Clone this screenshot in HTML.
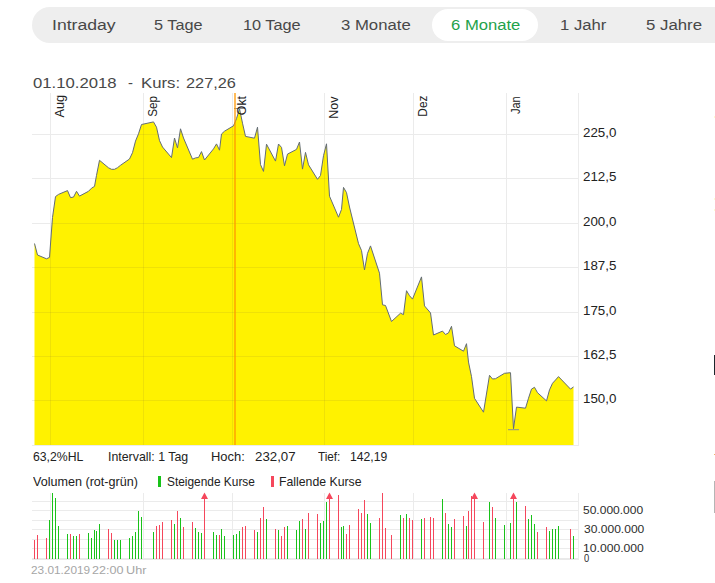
<!DOCTYPE html>
<html><head><meta charset="utf-8"><title>Chart</title>
<style>
html,body{margin:0;padding:0;background:#fff;}
body{width:715px;height:583px;overflow:hidden;position:relative;font-family:"Liberation Sans",sans-serif;}
.t{position:absolute;white-space:pre;line-height:1;font-family:"Liberation Sans",sans-serif;}
.bar{position:absolute;left:32px;top:7px;width:700px;height:36px;border-radius:18px;background:#eeeeee;}
.pill{position:absolute;left:432px;top:9px;width:106px;height:32px;border-radius:16px;background:#fff;}
.m{position:absolute;white-space:pre;line-height:1;font-size:13px;color:#222;transform-origin:0 0;transform:rotate(-90deg);text-align:right;width:40px;}
</style></head><body>
<div class="bar"></div><div class="pill"></div>

<svg width="715" height="583" viewBox="0 0 715 583" style="position:absolute;left:0;top:0">
<rect x="32" y="134" width="547" height="1" fill="#ebebeb"/>
<rect x="32" y="178" width="547" height="1" fill="#ebebeb"/>
<rect x="32" y="223" width="547" height="1" fill="#ebebeb"/>
<rect x="32" y="267" width="547" height="1" fill="#ebebeb"/>
<rect x="32" y="312" width="547" height="1" fill="#ebebeb"/>
<rect x="32" y="356" width="547" height="1" fill="#ebebeb"/>
<rect x="32" y="400" width="547" height="1" fill="#ebebeb"/>
<rect x="50" y="93" width="1" height="353" fill="#ebebeb"/>
<rect x="143" y="93" width="1" height="353" fill="#ebebeb"/>
<rect x="232" y="93" width="1" height="353" fill="#ebebeb"/>
<rect x="324" y="93" width="1" height="353" fill="#ebebeb"/>
<rect x="413" y="93" width="1" height="353" fill="#ebebeb"/>
<rect x="506" y="93" width="1" height="353" fill="#ebebeb"/>
<rect x="578" y="93" width="1" height="353" fill="#ececec"/>
<rect x="32" y="445" width="547" height="1" fill="#ececec"/>
<clipPath id="cf"><path d="M34.5 445 L34.5 243.5 L37.5 255.0 L46.5 258.8 L49.5 257.4 L52.5 217.5 L55.5 196.6 L58.5 194.4 L67.5 190.6 L70.5 197.6 L73.5 197.1 L76.5 191.3 L79.5 196.1 L88.5 191.3 L91.5 188.2 L94.5 186.4 L96.5 175.4 L99.5 160.3 L108.5 167.8 L111.5 169.3 L114.5 169.3 L117.5 167.7 L120.5 165.3 L129.5 159.0 L132.5 152.7 L135.5 141.1 L138.5 133.8 L141.5 124.5 L153.5 121.9 L156.5 127.2 L159.5 140.6 L162.5 147.0 L171.5 157.6 L174.5 138.0 L177.5 147.9 L180.5 128.8 L183.5 138.0 L192.5 159.2 L195.5 157.9 L198.5 157.5 L201.5 151.6 L204.5 160.0 L213.5 148.9 L216.5 143.9 L219.5 150.2 L221.5 134.0 L224.5 131.2 L233.5 125.8 L236.5 118.6 L239.5 108.7 L242.5 123.2 L245.5 136.4 L254.5 138.2 L257.5 127.2 L260.5 164.6 L263.5 171.4 L266.5 144.2 L275.5 161.1 L278.5 144.0 L281.5 147.4 L284.5 165.8 L287.5 154.1 L296.5 149.4 L299.5 142.0 L302.5 169.1 L305.5 152.4 L308.5 164.8 L317.5 179.3 L320.5 175.5 L323.5 155.7 L326.5 143.8 L329.5 196.2 L338.5 217.2 L341.5 209.4 L343.5 187.4 L346.5 192.6 L349.5 207.0 L358.5 243.6 L361.5 250.5 L364.5 269.9 L367.5 253.4 L370.5 245.9 L379.5 273.2 L382.5 304.8 L385.5 305.5 L391.5 321.5 L400.5 313.2 L403.5 314.6 L406.5 290.7 L409.5 295.7 L412.5 299.1 L421.5 276.9 L424.5 305.9 L430.5 312.9 L433.5 335.0 L442.5 331.1 L445.5 334.5 L448.5 332.9 L451.5 326.3 L454.5 345.8 L463.5 351.2 L466.5 343.7 L468.5 362.1 L471.5 376.6 L474.5 398.3 L483.5 412.2 L489.5 375.3 L492.5 379.0 L495.5 378.7 L504.5 373.3 L510.5 372.7 L513.5 428.7 L516.5 407.1 L525.5 408.2 L528.5 398.2 L531.5 389.1 L534.5 387.3 L537.5 392.7 L546.5 400.9 L549.5 389.9 L552.5 383.3 L555.5 380.0 L558.5 376.6 L570.5 389.1 L573.5 386.9 L573.5 445 Z"/></clipPath>
<path d="M34.5 445 L34.5 243.5 L37.5 255.0 L46.5 258.8 L49.5 257.4 L52.5 217.5 L55.5 196.6 L58.5 194.4 L67.5 190.6 L70.5 197.6 L73.5 197.1 L76.5 191.3 L79.5 196.1 L88.5 191.3 L91.5 188.2 L94.5 186.4 L96.5 175.4 L99.5 160.3 L108.5 167.8 L111.5 169.3 L114.5 169.3 L117.5 167.7 L120.5 165.3 L129.5 159.0 L132.5 152.7 L135.5 141.1 L138.5 133.8 L141.5 124.5 L153.5 121.9 L156.5 127.2 L159.5 140.6 L162.5 147.0 L171.5 157.6 L174.5 138.0 L177.5 147.9 L180.5 128.8 L183.5 138.0 L192.5 159.2 L195.5 157.9 L198.5 157.5 L201.5 151.6 L204.5 160.0 L213.5 148.9 L216.5 143.9 L219.5 150.2 L221.5 134.0 L224.5 131.2 L233.5 125.8 L236.5 118.6 L239.5 108.7 L242.5 123.2 L245.5 136.4 L254.5 138.2 L257.5 127.2 L260.5 164.6 L263.5 171.4 L266.5 144.2 L275.5 161.1 L278.5 144.0 L281.5 147.4 L284.5 165.8 L287.5 154.1 L296.5 149.4 L299.5 142.0 L302.5 169.1 L305.5 152.4 L308.5 164.8 L317.5 179.3 L320.5 175.5 L323.5 155.7 L326.5 143.8 L329.5 196.2 L338.5 217.2 L341.5 209.4 L343.5 187.4 L346.5 192.6 L349.5 207.0 L358.5 243.6 L361.5 250.5 L364.5 269.9 L367.5 253.4 L370.5 245.9 L379.5 273.2 L382.5 304.8 L385.5 305.5 L391.5 321.5 L400.5 313.2 L403.5 314.6 L406.5 290.7 L409.5 295.7 L412.5 299.1 L421.5 276.9 L424.5 305.9 L430.5 312.9 L433.5 335.0 L442.5 331.1 L445.5 334.5 L448.5 332.9 L451.5 326.3 L454.5 345.8 L463.5 351.2 L466.5 343.7 L468.5 362.1 L471.5 376.6 L474.5 398.3 L483.5 412.2 L489.5 375.3 L492.5 379.0 L495.5 378.7 L504.5 373.3 L510.5 372.7 L513.5 428.7 L516.5 407.1 L525.5 408.2 L528.5 398.2 L531.5 389.1 L534.5 387.3 L537.5 392.7 L546.5 400.9 L549.5 389.9 L552.5 383.3 L555.5 380.0 L558.5 376.6 L570.5 389.1 L573.5 386.9 L573.5 445 Z" fill="#fff200"/>
<g clip-path="url(#cf)">
<rect x="34" y="134" width="540" height="1" fill="rgba(120,110,60,0.12)"/>
<rect x="34" y="178" width="540" height="1" fill="rgba(120,110,60,0.12)"/>
<rect x="34" y="223" width="540" height="1" fill="rgba(120,110,60,0.12)"/>
<rect x="34" y="267" width="540" height="1" fill="rgba(120,110,60,0.12)"/>
<rect x="34" y="312" width="540" height="1" fill="rgba(120,110,60,0.12)"/>
<rect x="34" y="356" width="540" height="1" fill="rgba(120,110,60,0.12)"/>
<rect x="34" y="400" width="540" height="1" fill="rgba(120,110,60,0.12)"/>
<rect x="50" y="93" width="1" height="352" fill="rgba(120,110,60,0.12)"/>
<rect x="143" y="93" width="1" height="352" fill="rgba(120,110,60,0.12)"/>
<rect x="232" y="93" width="1" height="352" fill="rgba(120,110,60,0.12)"/>
<rect x="324" y="93" width="1" height="352" fill="rgba(120,110,60,0.12)"/>
<rect x="413" y="93" width="1" height="352" fill="rgba(120,110,60,0.12)"/>
<rect x="506" y="93" width="1" height="352" fill="rgba(120,110,60,0.12)"/>
</g>
<path d="M34.5 243.5 L37.5 255.0 L46.5 258.8 L49.5 257.4 L52.5 217.5 L55.5 196.6 L58.5 194.4 L67.5 190.6 L70.5 197.6 L73.5 197.1 L76.5 191.3 L79.5 196.1 L88.5 191.3 L91.5 188.2 L94.5 186.4 L96.5 175.4 L99.5 160.3 L108.5 167.8 L111.5 169.3 L114.5 169.3 L117.5 167.7 L120.5 165.3 L129.5 159.0 L132.5 152.7 L135.5 141.1 L138.5 133.8 L141.5 124.5 L153.5 121.9 L156.5 127.2 L159.5 140.6 L162.5 147.0 L171.5 157.6 L174.5 138.0 L177.5 147.9 L180.5 128.8 L183.5 138.0 L192.5 159.2 L195.5 157.9 L198.5 157.5 L201.5 151.6 L204.5 160.0 L213.5 148.9 L216.5 143.9 L219.5 150.2 L221.5 134.0 L224.5 131.2 L233.5 125.8 L236.5 118.6 L239.5 108.7 L242.5 123.2 L245.5 136.4 L254.5 138.2 L257.5 127.2 L260.5 164.6 L263.5 171.4 L266.5 144.2 L275.5 161.1 L278.5 144.0 L281.5 147.4 L284.5 165.8 L287.5 154.1 L296.5 149.4 L299.5 142.0 L302.5 169.1 L305.5 152.4 L308.5 164.8 L317.5 179.3 L320.5 175.5 L323.5 155.7 L326.5 143.8 L329.5 196.2 L338.5 217.2 L341.5 209.4 L343.5 187.4 L346.5 192.6 L349.5 207.0 L358.5 243.6 L361.5 250.5 L364.5 269.9 L367.5 253.4 L370.5 245.9 L379.5 273.2 L382.5 304.8 L385.5 305.5 L391.5 321.5 L400.5 313.2 L403.5 314.6 L406.5 290.7 L409.5 295.7 L412.5 299.1 L421.5 276.9 L424.5 305.9 L430.5 312.9 L433.5 335.0 L442.5 331.1 L445.5 334.5 L448.5 332.9 L451.5 326.3 L454.5 345.8 L463.5 351.2 L466.5 343.7 L468.5 362.1 L471.5 376.6 L474.5 398.3 L483.5 412.2 L489.5 375.3 L492.5 379.0 L495.5 378.7 L504.5 373.3 L510.5 372.7 L513.5 428.7 L516.5 407.1 L525.5 408.2 L528.5 398.2 L531.5 389.1 L534.5 387.3 L537.5 392.7 L546.5 400.9 L549.5 389.9 L552.5 383.3 L555.5 380.0 L558.5 376.6 L570.5 389.1 L573.5 386.9" fill="none" stroke="#636c76" stroke-width="1" stroke-linejoin="miter"/>
<rect x="234.0" y="108.0" width="11" height="1" fill="#8a8f92"/>
<rect x="508.0" y="429.2" width="11" height="1" fill="#8a8f92"/>
<rect x="234" y="93" width="2" height="352" fill="rgba(255,150,0,0.65)"/>
<rect x="32" y="548" width="547" height="1" fill="#ebebeb"/>
<rect x="32" y="539" width="547" height="1" fill="#ebebeb"/>
<rect x="32" y="529" width="547" height="1" fill="#ebebeb"/>
<rect x="32" y="520" width="547" height="1" fill="#ebebeb"/>
<rect x="32" y="510" width="547" height="1" fill="#ebebeb"/>
<rect x="32" y="501" width="547" height="1" fill="#ebebeb"/>
<rect x="32" y="558" width="547" height="2" fill="#e9e9e9"/>
<rect x="50" y="493" width="1" height="66" fill="#ebebeb"/>
<rect x="143" y="493" width="1" height="66" fill="#ebebeb"/>
<rect x="232" y="493" width="1" height="66" fill="#ebebeb"/>
<rect x="324" y="493" width="1" height="66" fill="#ebebeb"/>
<rect x="413" y="493" width="1" height="66" fill="#ebebeb"/>
<rect x="506" y="493" width="1" height="66" fill="#ebebeb"/>
<rect x="578" y="493" width="1" height="66" fill="#ececec"/>
<rect x="34" y="540" width="1" height="19" fill="#f5475c"/>
<rect x="37" y="535" width="1" height="24" fill="#f5475c"/>
<rect x="46" y="538" width="1" height="21" fill="#f5475c"/>
<rect x="49" y="520" width="1" height="39" fill="#19c219"/>
<rect x="52" y="493" width="1" height="66" fill="#19c219"/>
<rect x="55" y="498" width="1" height="61" fill="#19c219"/>
<rect x="58" y="526" width="1" height="33" fill="#19c219"/>
<rect x="67" y="534" width="1" height="25" fill="#19c219"/>
<rect x="70" y="534" width="1" height="25" fill="#f5475c"/>
<rect x="73" y="536" width="1" height="23" fill="#19c219"/>
<rect x="76" y="536" width="1" height="23" fill="#19c219"/>
<rect x="79" y="534" width="1" height="25" fill="#f5475c"/>
<rect x="88" y="533" width="1" height="26" fill="#19c219"/>
<rect x="91" y="538" width="1" height="21" fill="#19c219"/>
<rect x="94" y="530" width="1" height="29" fill="#19c219"/>
<rect x="96" y="531" width="1" height="28" fill="#19c219"/>
<rect x="99" y="524" width="1" height="35" fill="#19c219"/>
<rect x="108" y="529" width="1" height="30" fill="#f5475c"/>
<rect x="111" y="533" width="1" height="26" fill="#f5475c"/>
<rect x="114" y="540" width="1" height="19" fill="#19c219"/>
<rect x="117" y="540" width="1" height="19" fill="#19c219"/>
<rect x="120" y="540" width="1" height="19" fill="#19c219"/>
<rect x="129" y="538" width="1" height="21" fill="#19c219"/>
<rect x="132" y="536" width="1" height="23" fill="#19c219"/>
<rect x="135" y="532" width="1" height="27" fill="#19c219"/>
<rect x="138" y="511" width="1" height="48" fill="#19c219"/>
<rect x="141" y="517" width="1" height="42" fill="#19c219"/>
<rect x="153" y="532" width="1" height="27" fill="#19c219"/>
<rect x="156" y="526" width="1" height="33" fill="#f5475c"/>
<rect x="159" y="525" width="1" height="34" fill="#f5475c"/>
<rect x="162" y="522" width="1" height="37" fill="#f5475c"/>
<rect x="171" y="520" width="1" height="39" fill="#f5475c"/>
<rect x="174" y="524" width="1" height="35" fill="#19c219"/>
<rect x="177" y="511" width="1" height="48" fill="#f5475c"/>
<rect x="180" y="518" width="1" height="41" fill="#19c219"/>
<rect x="183" y="527" width="1" height="32" fill="#f5475c"/>
<rect x="192" y="522" width="1" height="37" fill="#f5475c"/>
<rect x="195" y="528" width="1" height="31" fill="#19c219"/>
<rect x="198" y="532" width="1" height="27" fill="#19c219"/>
<rect x="201" y="533" width="1" height="26" fill="#19c219"/>
<rect x="204" y="495" width="1" height="64" fill="#f5475c"/>
<path d="M204.5 492.6 L208 499 L201 499 Z" fill="#f5475c"/>
<rect x="213" y="532" width="1" height="27" fill="#19c219"/>
<rect x="216" y="535" width="1" height="24" fill="#19c219"/>
<rect x="219" y="535" width="1" height="24" fill="#f5475c"/>
<rect x="221" y="529" width="1" height="30" fill="#19c219"/>
<rect x="224" y="536" width="1" height="23" fill="#19c219"/>
<rect x="233" y="535" width="1" height="24" fill="#19c219"/>
<rect x="236" y="534" width="1" height="25" fill="#19c219"/>
<rect x="239" y="531" width="1" height="28" fill="#19c219"/>
<rect x="242" y="527" width="1" height="32" fill="#f5475c"/>
<rect x="245" y="526" width="1" height="33" fill="#f5475c"/>
<rect x="254" y="530" width="1" height="29" fill="#f5475c"/>
<rect x="257" y="532" width="1" height="27" fill="#19c219"/>
<rect x="260" y="518" width="1" height="41" fill="#f5475c"/>
<rect x="263" y="507" width="1" height="52" fill="#f5475c"/>
<rect x="266" y="519" width="1" height="40" fill="#19c219"/>
<rect x="275" y="529" width="1" height="30" fill="#f5475c"/>
<rect x="278" y="530" width="1" height="29" fill="#19c219"/>
<rect x="281" y="536" width="1" height="23" fill="#f5475c"/>
<rect x="284" y="527" width="1" height="32" fill="#f5475c"/>
<rect x="287" y="526" width="1" height="33" fill="#19c219"/>
<rect x="296" y="530" width="1" height="29" fill="#19c219"/>
<rect x="299" y="521" width="1" height="38" fill="#19c219"/>
<rect x="302" y="519" width="1" height="40" fill="#f5475c"/>
<rect x="305" y="529" width="1" height="30" fill="#19c219"/>
<rect x="308" y="513" width="1" height="46" fill="#f5475c"/>
<rect x="317" y="514" width="1" height="45" fill="#f5475c"/>
<rect x="320" y="523" width="1" height="36" fill="#19c219"/>
<rect x="323" y="521" width="1" height="38" fill="#19c219"/>
<rect x="326" y="502" width="1" height="57" fill="#19c219"/>
<rect x="329" y="495" width="1" height="64" fill="#f5475c"/>
<path d="M329.5 492.6 L333 499 L326 499 Z" fill="#f5475c"/>
<rect x="338" y="495" width="1" height="64" fill="#f5475c"/>
<rect x="341" y="527" width="1" height="32" fill="#19c219"/>
<rect x="343" y="526" width="1" height="33" fill="#19c219"/>
<rect x="346" y="534" width="1" height="25" fill="#f5475c"/>
<rect x="349" y="525" width="1" height="34" fill="#f5475c"/>
<rect x="358" y="509" width="1" height="50" fill="#f5475c"/>
<rect x="361" y="513" width="1" height="46" fill="#f5475c"/>
<rect x="364" y="500" width="1" height="59" fill="#f5475c"/>
<rect x="367" y="514" width="1" height="45" fill="#19c219"/>
<rect x="370" y="523" width="1" height="36" fill="#19c219"/>
<rect x="379" y="518" width="1" height="41" fill="#f5475c"/>
<rect x="382" y="493" width="1" height="66" fill="#f5475c"/>
<rect x="385" y="528" width="1" height="31" fill="#f5475c"/>
<rect x="391" y="535" width="1" height="24" fill="#f5475c"/>
<rect x="400" y="515" width="1" height="44" fill="#19c219"/>
<rect x="403" y="518" width="1" height="41" fill="#f5475c"/>
<rect x="406" y="514" width="1" height="45" fill="#19c219"/>
<rect x="409" y="518" width="1" height="41" fill="#f5475c"/>
<rect x="412" y="520" width="1" height="39" fill="#f5475c"/>
<rect x="421" y="519" width="1" height="40" fill="#19c219"/>
<rect x="424" y="518" width="1" height="41" fill="#f5475c"/>
<rect x="430" y="517" width="1" height="42" fill="#f5475c"/>
<rect x="433" y="518" width="1" height="41" fill="#f5475c"/>
<rect x="442" y="499" width="1" height="60" fill="#19c219"/>
<rect x="445" y="513" width="1" height="46" fill="#f5475c"/>
<rect x="448" y="524" width="1" height="35" fill="#19c219"/>
<rect x="451" y="527" width="1" height="32" fill="#19c219"/>
<rect x="454" y="519" width="1" height="40" fill="#f5475c"/>
<rect x="463" y="516" width="1" height="43" fill="#f5475c"/>
<rect x="466" y="526" width="1" height="33" fill="#19c219"/>
<rect x="468" y="511" width="1" height="48" fill="#f5475c"/>
<rect x="471" y="496" width="1" height="63" fill="#f5475c"/>
<rect x="474" y="495" width="1" height="64" fill="#f5475c"/>
<path d="M474.5 492.6 L478 499 L471 499 Z" fill="#f5475c"/>
<rect x="483" y="522" width="1" height="37" fill="#f5475c"/>
<rect x="489" y="502" width="1" height="57" fill="#19c219"/>
<rect x="492" y="507" width="1" height="52" fill="#f5475c"/>
<rect x="495" y="518" width="1" height="41" fill="#19c219"/>
<rect x="504" y="525" width="1" height="34" fill="#19c219"/>
<rect x="510" y="523" width="1" height="36" fill="#19c219"/>
<rect x="513" y="495" width="1" height="64" fill="#f5475c"/>
<path d="M513.5 492.6 L517 499 L510 499 Z" fill="#f5475c"/>
<rect x="516" y="502" width="1" height="57" fill="#19c219"/>
<rect x="525" y="506" width="1" height="53" fill="#f5475c"/>
<rect x="528" y="519" width="1" height="40" fill="#19c219"/>
<rect x="531" y="515" width="1" height="44" fill="#19c219"/>
<rect x="534" y="524" width="1" height="35" fill="#19c219"/>
<rect x="537" y="532" width="1" height="27" fill="#f5475c"/>
<rect x="546" y="527" width="1" height="32" fill="#f5475c"/>
<rect x="549" y="531" width="1" height="28" fill="#19c219"/>
<rect x="552" y="529" width="1" height="30" fill="#19c219"/>
<rect x="555" y="529" width="1" height="30" fill="#19c219"/>
<rect x="558" y="526" width="1" height="33" fill="#19c219"/>
<rect x="570" y="529" width="1" height="30" fill="#f5475c"/>
<rect x="573" y="536" width="1" height="23" fill="#19c219"/>
<rect x="158" y="476" width="3" height="11" fill="#19c219"/>
<rect x="271" y="476" width="3" height="11" fill="#f5475c"/>
<rect x="714" y="355" width="1" height="20" fill="#1b262c"/>
<rect x="714" y="481" width="1" height="32" fill="#b5b5b5"/>
<rect x="714" y="116" width="1" height="2" fill="#fffbd2"/>
<rect x="714" y="198" width="1" height="2" fill="#fffbd2"/>
<rect x="714" y="209" width="1" height="2" fill="#fffbd2"/>
<rect x="714" y="454" width="1" height="1" fill="#f3b467"/>
</svg>
<span class="t" style="left:51.80px;top:17px;font-size:15.5px;color:#484848;transform-origin:0 50%;transform:scaleX(1.1364)">Intraday</span>
<span class="t" style="left:154.38px;top:17px;font-size:15.5px;color:#484848;transform-origin:0 50%;transform:scaleX(1.0485)">5 Tage</span>
<span class="t" style="left:242.73px;top:17px;font-size:15.5px;color:#484848;transform-origin:0 50%;transform:scaleX(1.0510)">10 Tage</span>
<span class="t" style="left:340.55px;top:17px;font-size:15.5px;color:#484848;transform-origin:0 50%;transform:scaleX(1.0781)">3 Monate</span>
<span class="t" style="left:450.78px;top:17px;font-size:15.5px;color:#1fa24a;transform-origin:0 50%;transform:scaleX(1.0734)">6 Monate</span>
<span class="t" style="left:559.55px;top:17px;font-size:15.5px;color:#484848;transform-origin:0 50%;transform:scaleX(1.0747)">1 Jahr</span>
<span class="t" style="left:645.92px;top:17px;font-size:15.5px;color:#484848;transform-origin:0 50%;transform:scaleX(1.0841)">5 Jahre</span>
<span class="t" style="left:32.59px;top:75px;font-size:15px;color:#484848;transform-origin:0 50%;transform:scaleX(1.1134)">01.10.2018</span>
<span class="t" style="left:127.73px;top:75px;font-size:15px;color:#484848;transform-origin:0 50%;transform:scaleX(0.9938)">-</span>
<span class="t" style="left:141.12px;top:75px;font-size:15px;color:#484848;transform-origin:0 50%;transform:scaleX(1.1154)">Kurs:</span>
<span class="t" style="left:185.55px;top:75px;font-size:15px;color:#484848;transform-origin:0 50%;transform:scaleX(1.0868)">227,26</span>
<span class="t" style="left:583px;top:126px;font-size:13px;color:#222;transform-origin:0 50%;transform:scaleX(1.025)">225,0</span>
<span class="t" style="left:583px;top:170px;font-size:13px;color:#222;transform-origin:0 50%;transform:scaleX(1.025)">212,5</span>
<span class="t" style="left:583px;top:215px;font-size:13px;color:#222;transform-origin:0 50%;transform:scaleX(1.025)">200,0</span>
<span class="t" style="left:583px;top:259px;font-size:13px;color:#222;transform-origin:0 50%;transform:scaleX(1.025)">187,5</span>
<span class="t" style="left:583px;top:304px;font-size:13px;color:#222;transform-origin:0 50%;transform:scaleX(1.025)">175,0</span>
<span class="t" style="left:583px;top:348px;font-size:13px;color:#222;transform-origin:0 50%;transform:scaleX(1.025)">162,5</span>
<span class="t" style="left:583px;top:392px;font-size:13px;color:#222;transform-origin:0 50%;transform:scaleX(1.025)">150,0</span>
<span class="t" style="left:582.81px;top:505px;font-size:11.5px;color:#2c2c2c;transform-origin:0 50%;transform:scaleX(1.0449)">50.000.000</span>
<span class="t" style="left:583.97px;top:524px;font-size:11.5px;color:#2c2c2c;transform-origin:0 50%;transform:scaleX(1.0474)">30.000.000</span>
<span class="t" style="left:582.94px;top:543px;font-size:11.5px;color:#2c2c2c;transform-origin:0 50%;transform:scaleX(1.0563)">10.000.000</span>
<span class="t" style="left:584.21px;top:553px;font-size:11.5px;color:#2c2c2c;transform-origin:0 50%;transform:scaleX(0.8130)">0</span>
<span class="m" style="left:53.20px;top:133.60px;transform:rotate(-90deg) scaleX(0.98)">Aug</span>
<span class="m" style="left:146.20px;top:131.60px;transform:rotate(-90deg) scaleX(0.9)">Sep</span>
<span class="m" style="left:235.20px;top:133.60px;transform:rotate(-90deg) scaleX(0.95)">Okt</span>
<span class="m" style="left:327.20px;top:134.60px;transform:rotate(-90deg) scaleX(0.96)">Nov</span>
<span class="m" style="left:416.20px;top:132.40px;transform:rotate(-90deg) scaleX(0.91)">Dez</span>
<span class="m" style="left:509.20px;top:129.60px;transform:rotate(-90deg) scaleX(0.84)">Jan</span>
<span class="t" style="left:32.81px;top:450px;font-size:13px;color:#222;transform-origin:0 50%;transform:scaleX(0.9416)">63,2%HL</span>
<span class="t" style="left:108.02px;top:450px;font-size:13px;color:#222;transform-origin:0 50%;transform:scaleX(0.9506)">Intervall: 1 Tag</span>
<span class="t" style="left:211.38px;top:450px;font-size:13px;color:#222;transform-origin:0 50%;transform:scaleX(0.9950)">Hoch:</span>
<span class="t" style="left:254.98px;top:450px;font-size:13px;color:#222;transform-origin:0 50%;transform:scaleX(1.0208)">232,07</span>
<span class="t" style="left:317.94px;top:450px;font-size:13px;color:#222;transform-origin:0 50%;transform:scaleX(0.9014)">Tief:</span>
<span class="t" style="left:349.81px;top:450px;font-size:13px;color:#222;transform-origin:0 50%;transform:scaleX(0.9388)">142,19</span>
<span class="t" style="left:32.59px;top:475px;font-size:13px;color:#222;transform-origin:0 50%;transform:scaleX(0.9676)">Volumen (rot-grün)</span>
<span class="t" style="left:167.22px;top:475px;font-size:13px;color:#222;transform-origin:0 50%;transform:scaleX(0.9144)">Steigende Kurse</span>
<span class="t" style="left:278.82px;top:475px;font-size:13px;color:#222;transform-origin:0 50%;transform:scaleX(0.9437)">Fallende Kurse</span>
<span class="t" style="left:31.18px;top:565px;font-size:11.5px;color:#a6a6a6;transform-origin:0 50%;transform:scaleX(1.0269)">23.01.2019</span>
<span class="t" style="left:91.58px;top:565px;font-size:11.5px;color:#a6a6a6;transform-origin:0 50%;transform:scaleX(1.0930)">22:00</span>
<span class="t" style="left:126.49px;top:565px;font-size:11.5px;color:#a6a6a6;transform-origin:0 50%;transform:scaleX(1.1001)">Uhr</span>
</body></html>
